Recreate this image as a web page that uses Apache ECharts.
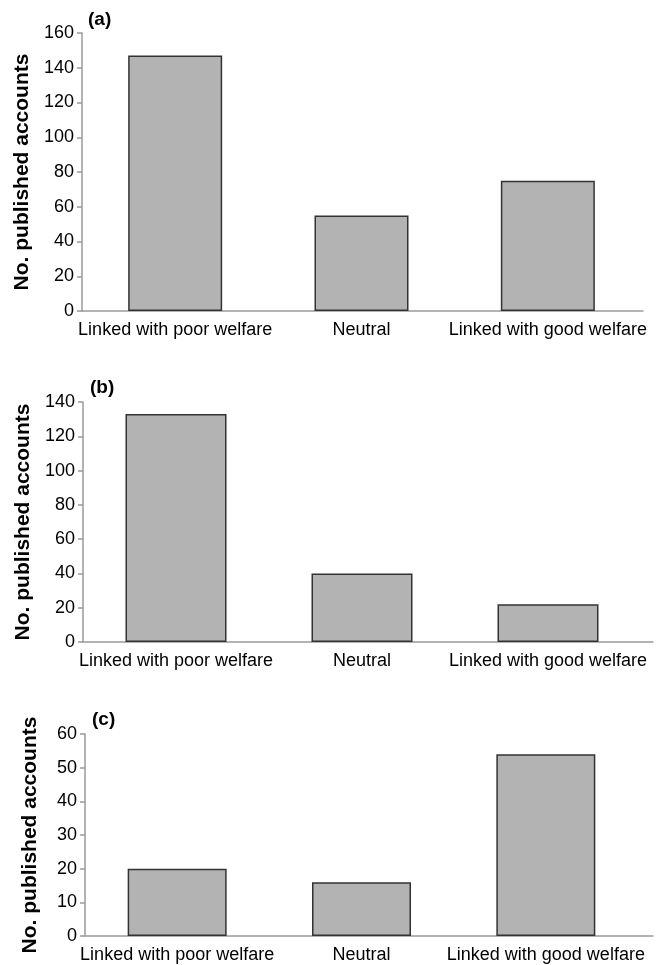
<!DOCTYPE html>
<html>
<head>
<meta charset="utf-8">
<script src="https://cdn.jsdelivr.net/npm/echarts@6/dist/echarts.min.js"></script>
<style>
html,body{margin:0;padding:0;background:#fff;}
#chart{width:663px;height:965px;}
</style>
</head>
<body>
<div id="chart"></div>
<script>
// ---- data ----
const categories = ['Linked with poor welfare', 'Neutral', 'Linked with good welfare'];
const valuesA = [147, 55, 75];
const valuesB = [133, 40, 22];
const valuesC = [20, 16, 54];
const panelLabels = ['(a)', '(b)', '(c)'];
const yMax = [160, 140, 60];
const yInterval = [20, 20, 10];
const yAxisTitle = 'No. published accounts';

// ---- layout (positions / sizes) ----
const layout = [
  { left: 82, top: 33,  width: 559, height: 278, lineWidth: 561, barWidth: 94,  labelLeft: 88, labelTop: 10 },
  { left: 83, top: 402, width: 558, height: 240, lineWidth: 570, barWidth: 101, labelLeft: 90, labelTop: 378 },
  { left: 85, top: 734, width: 553, height: 202, lineWidth: 568, barWidth: 99,  labelLeft: 92, labelTop: 710 }
];
const seriesValues = [valuesA, valuesB, valuesC];

const FONT = 'Liberation Sans, Arial, Helvetica, sans-serif';
const AXIS_COLOR = '#9a9a9a';
const TEXT_COLOR = '#000';

const grid = [], xAxis = [], yAxis = [], series = [], title = [];
layout.forEach((p, i) => {
  grid.push({ left: p.left, top: p.top, width: p.width, height: p.height, containLabel: false });
  grid.push({ left: p.left, top: p.top, width: p.lineWidth, height: p.height, containLabel: false });
  xAxis.push({
    type: 'category', gridIndex: 2 * i, data: categories,
    axisLine: { show: false }, axisTick: { show: false },
    axisLabel: { color: TEXT_COLOR, fontFamily: FONT, fontSize: 18, margin: 10, interval: 0 }
  });
  xAxis.push({
    type: 'category', gridIndex: 2 * i + 1, data: categories,
    axisLine: { show: true, lineStyle: { color: AXIS_COLOR, width: 1.5 } },
    axisTick: { show: false }, axisLabel: { show: false }, splitLine: { show: false }
  });
  yAxis.push({
    type: 'value', gridIndex: 2 * i, min: 0, max: yMax[i], interval: yInterval[i],
    splitLine: { show: false },
    axisLine: { show: true, lineStyle: { color: AXIS_COLOR, width: 1.5 } },
    axisTick: { show: true, inside: false, length: 5, lineStyle: { color: AXIS_COLOR, width: 1.5 } },
    axisLabel: { color: TEXT_COLOR, fontFamily: FONT, fontSize: 18, margin: 8 },
    name: yAxisTitle, nameLocation: 'middle', nameGap: 44,
    nameTextStyle: { color: TEXT_COLOR, fontFamily: FONT, fontSize: 21, fontWeight: 'bold' }
  });
  yAxis.push({ type: 'value', gridIndex: 2 * i + 1, show: false, min: 0, max: yMax[i] });
  series.push({
    type: 'bar', xAxisIndex: 2 * i, yAxisIndex: 2 * i, data: seriesValues[i],
    barWidth: p.barWidth,
    itemStyle: { color: '#b3b3b3', borderColor: '#333', borderWidth: 1.5 },
    silent: true, animation: false
  });
  title.push({
    text: panelLabels[i], left: p.labelLeft, top: p.labelTop, padding: 0,
    textStyle: { color: TEXT_COLOR, fontFamily: FONT, fontSize: 19, fontWeight: 'bold' }
  });
});

const chart = echarts.init(document.getElementById('chart'), null, { renderer: 'canvas' });
chart.setOption({ backgroundColor: '#fff', animation: false, title, grid, xAxis, yAxis, series });
</script>
</body>
</html>
